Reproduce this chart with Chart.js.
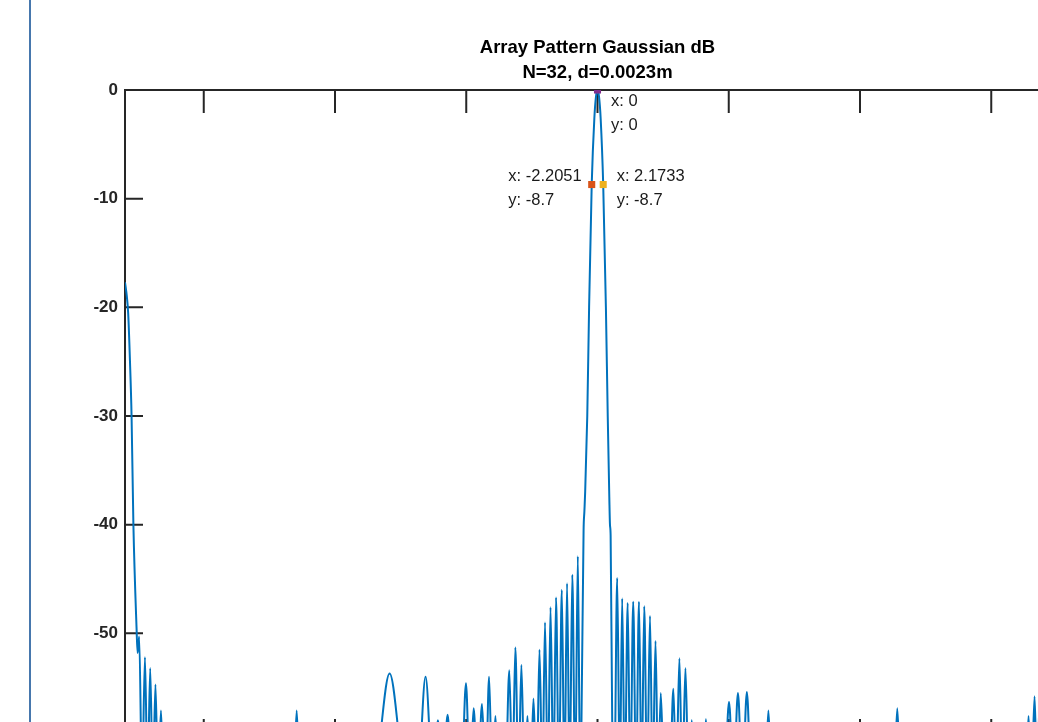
<!DOCTYPE html>
<html>
<head>
<meta charset="utf-8">
<script src="https://cdn.jsdelivr.net/npm/chart.js@4.4.1/dist/chart.umd.min.js"></script>
<style>
  html, body { margin: 0; padding: 0; background: #fff; overflow: hidden; }
  #plot { position: absolute; left: 0; top: 0; }
  /* page frame line on the left of the screenshot */
  #frame { position: absolute; left: 29px; top: 0; width: 2px; height: 722px; background: #4677ad; }
</style>
</head>
<body>
<canvas id="plot" width="1195" height="800"></canvas>
<div id="frame"></div>
<script>
// ---- data ----
// angle (deg) and gain (dB); -64 points are the (hidden) nulls between lobes
const angleDeg = [
  -180, -179.3, -178.8, -178.1, -177.5, -176.8, -175.6, -175.2, -174.6, -173.5,
  -172.4, -171.4, -170.4, -169.4, -168.4, -167.4, -166.3, -165.3,
  -115.8, -114.6, -113.4,
  -85.7, -79.2, -72.7,
  -68.6, -65.5, -62.6, -60.8, -59.0, -57.1, -55.4,
  -51.9, -50.1, -48.6, -47.2, -45.6, -44.0, -42.6, -41.3, -40.1, -38.9, -37.6,
  -35.1, -33.6, -32.4, -31.3, -30.1, -29.0, -27.8, -26.7, -25.5, -24.4, -23.2,
  -22.1, -21.0, -20.0, -18.9, -17.9, -16.8, -15.8, -14.7, -13.6, -12.6, -11.6,
  -10.6, -9.6, -8.5, -7.5, -6.6,
  -6.1, -5.3, -5.0, -4.7, -3.9, -3.2, -2.2051, -1.2, -0.6, 0, 0.6, 1.2, 2.1733,
  3.2, 3.9, 4.5, 4.75, 5.0, 5.6, 6.4,
  7.5, 8.5, 9.4, 10.4, 11.5, 12.5, 13.6, 14.7, 15.8, 16.8, 17.8, 18.9, 20.0,
  21.0, 22.1, 23.1, 24.1, 25.4,
  27.5, 28.9, 30.0, 31.2, 32.3, 33.5, 34.7, 35.9, 37.1,
  40.0, 41.3, 42.6,
  48.3, 50.1, 51.8, 53.5, 55.2, 56.9, 58.6,
  63.8, 65.1, 66.4,
  112.9, 114.2, 115.5,
  163.1, 164.2, 165.3, 166.5, 167.5, 168.6, 169.6, 170.6, 171.6, 172.6, 173.5,
  174.6, 175.2, 175.6, 176.8, 177.5, 178.1, 178.8, 179.3, 180
];
const gainDb = [
  -17.7, -19.0, -20.5, -25.0, -30.0, -40.0, -49.5, -51.8, -50.3, -64,
  -52.2, -64, -53.2, -64, -54.7, -64, -57.1, -64,
  -64, -57.1, -64,
  -64, -53.7, -64,
  -64, -54.0, -64, -58.0, -64, -57.5, -64,
  -64, -54.6, -64, -56.9, -64, -56.5, -64, -54.0, -64, -57.6, -64,
  -64, -53.4, -64, -51.3, -64, -52.9, -64, -57.6, -64, -56.0, -64,
  -51.5, -64, -49.0, -64, -47.6, -64, -46.7, -64, -46.0, -64, -45.4,
  -64, -44.6, -64, -42.9, -64,
  -58.0, -40.5, -38.8, -37.0, -30.0, -20.0, -8.7, -2.6, -0.65, 0, -0.65, -2.6, -8.7,
  -20.0, -30.0, -37.5, -40.0, -41.0, -58.0, -64,
  -44.9, -64, -46.8, -64, -47.2, -64, -47.1, -64, -47.1, -64, -47.5, -64, -48.4,
  -64, -50.7, -64, -55.5, -64,
  -64, -55.1, -64, -52.3, -64, -53.2, -64, -58.0, -64,
  -64, -57.9, -64,
  -64, -56.3, -64, -55.5, -64, -55.4, -64,
  -64, -57.1, -64,
  -64, -56.9, -64,
  -64, -57.6, -64, -55.8, -64, -54.5, -64, -53.2, -64, -52.2, -64,
  -50.3, -51.8, -49.5, -40.0, -30.0, -25.0, -20.5, -19.0, -17.7
];

// data tips
const tipX = [0, -2.2051, 2.1733];
const tipY = [0, -8.7, -8.7];

// axis ticks
const xTicks = [-180, -150, -100, -50, 0, 50, 100, 150, 180];
const yTicks = [0, -10, -20, -30, -40, -50, -60];

// ---- styling ----
const AXIS = '#262626';
const FONT = '"Liberation Sans", Arial, Helvetica, sans-serif';
const tipColors = ['#7E2F8E', '#D95319', '#EDB120'];
// where each tip's text sits relative to its marker
const tipPlacement = [
  { side: 'right', dy: [11, 35] },
  { side: 'left', dy: [-8.5, 15.5] },
  { side: 'right', dy: [-8.5, 15.5] }
];

// MATLAB-like box with inward ticks + data tip labels
const matlabAxes = {
  id: 'matlabAxes',
  beforeDatasetsDraw(chart) {
    const { ctx, chartArea: a, scales: { x, y } } = chart;
    ctx.save();
    ctx.strokeStyle = AXIS;
    ctx.lineWidth = 2;
    ctx.beginPath();
    xTicks.forEach(v => {
      const px = x.getPixelForValue(v);
      ctx.moveTo(px, a.top); ctx.lineTo(px, a.top + 23);
      ctx.moveTo(px, a.bottom); ctx.lineTo(px, a.bottom - 23);
    });
    yTicks.forEach(v => {
      const py = y.getPixelForValue(v);
      ctx.moveTo(a.left, py); ctx.lineTo(a.left + 18, py);
      ctx.moveTo(a.right, py); ctx.lineTo(a.right - 18, py);
    });
    ctx.stroke();
    ctx.strokeRect(a.left, a.top, a.right - a.left, a.bottom - a.top);
    ctx.restore();
  },
  afterDatasetsDraw(chart) {
    const { ctx, scales: { x, y } } = chart;
    ctx.save();
    ctx.font = '16.5px ' + FONT;
    ctx.fillStyle = '#1a1a1a';
    ctx.textBaseline = 'middle';
    ctx.textAlign = 'left';
    tipX.forEach((v, i) => {
      const px = x.getPixelForValue(v);
      const py = y.getPixelForValue(tipY[i]);
      const lines = ['x: ' + v, 'y: ' + tipY[i]];
      const place = tipPlacement[i];
      let left = px + 13.5;
      if (place.side === 'left') {
        const w = Math.max(...lines.map(t => ctx.measureText(t).width));
        left = px - 10 - w;
      }
      lines.forEach((t, j) => ctx.fillText(t, left, py + place.dy[j]));
    });
    ctx.restore();
  }
};

const curve = angleDeg.map((a, i) => ({ x: a, y: gainDb[i] }));
const tips = tipX.map((v, i) => ({ x: v, y: tipY[i] }));

new Chart(document.getElementById('plot'), {
  type: 'line',
  data: {
    datasets: [
      {
        type: 'scatter',
        data: tips,
        pointStyle: 'rect',
        pointRadius: 5,
        pointBackgroundColor: tipColors,
        pointBorderColor: tipColors,
        pointBorderWidth: 0,
        order: 0
      },
      {
        data: curve,
        borderColor: '#0072BD',
        borderWidth: 2,
        pointRadius: 0,
        cubicInterpolationMode: 'monotone',
        fill: false,
        order: 1
      }
    ]
  },
  options: {
    responsive: false,
    animation: false,
    layout: { padding: 0 },
    scales: {
      x: {
        type: 'linear',
        min: -180,
        max: 180,
        afterBuildTicks: s => { s.ticks = xTicks.map(v => ({ value: v })); },
        afterFit: s => { s.height = 58; },
        grid: { display: false, drawTicks: false },
        border: { display: false },
        ticks: { color: AXIS, font: { family: FONT, size: 17, weight: 'bold' }, padding: 8 }
      },
      y: {
        position: 'left',
        min: -60,
        max: 0,
        afterBuildTicks: s => { s.ticks = yTicks.map(v => ({ value: v })); },
        afterFit: s => { s.width = 125; },
        grid: { display: false, drawTicks: false },
        border: { display: false },
        ticks: { color: AXIS, font: { family: FONT, size: 17, weight: 'bold' }, padding: 7 }
      },
      yRight: {
        position: 'right',
        min: -60,
        max: 0,
        afterFit: s => { s.width = 125; },
        grid: { display: false, drawTicks: false },
        border: { display: false },
        ticks: { display: false }
      }
    },
    plugins: {
      legend: { display: false },
      tooltip: { enabled: false },
      title: {
        display: true,
        text: ['Array Pattern Gaussian dB', 'N=32, d=0.0023m'],
        color: '#000',
        font: { family: FONT, size: 18.5, weight: 'bold', lineHeight: '25px' },
        padding: { top: 35.5, bottom: 4.5 }
      }
    }
  },
  plugins: [matlabAxes]
});
</script>
</body>
</html>
